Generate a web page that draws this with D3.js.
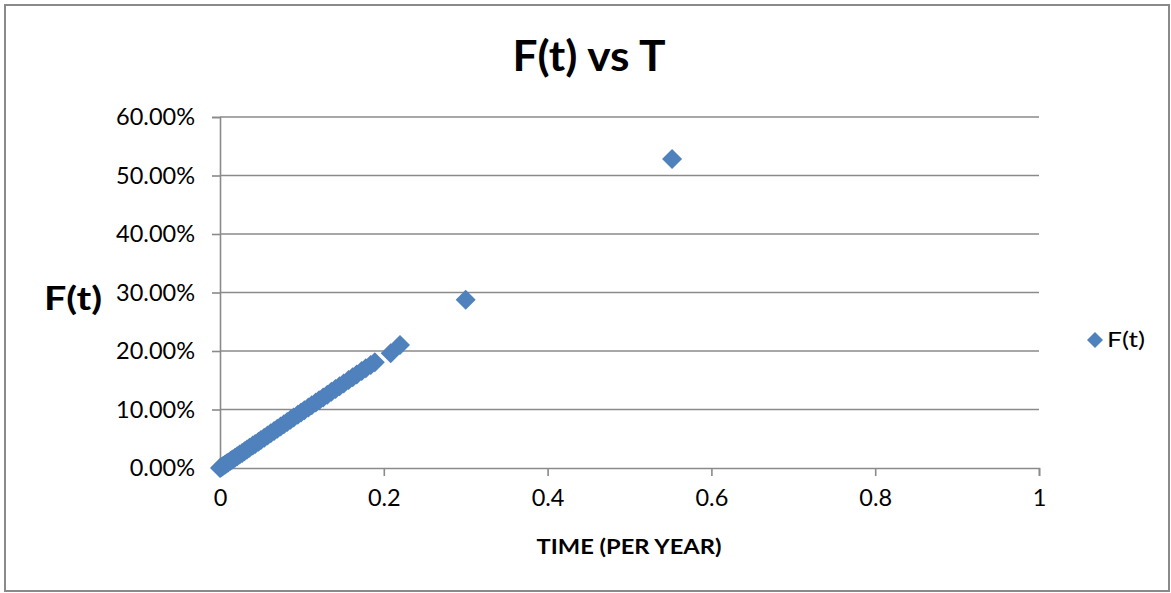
<!DOCTYPE html>
<html>
<head>
<meta charset="utf-8">
<script src="https://cdn.jsdelivr.net/npm/d3@7"></script>
<style>
  html, body { margin: 0; padding: 0; background: #fff; }
  svg { display: block; }
  text { font-family: Lato, "Open Sans", sans-serif; fill: #000; }
</style>
</head>
<body>
<svg id="chart" width="1171" height="593"></svg>
<script>
// Time (per year) of each observation
const timeValues = [
  0, 0.001, 0.002, 0.004, 0.006, 0.008, 0.010, 0.013, 0.015, 0.018,
  0.021, 0.024, 0.027, 0.030, 0.033, 0.036, 0.040, 0.043, 0.047, 0.050,
  0.054, 0.058, 0.062, 0.066, 0.070, 0.074, 0.078, 0.082, 0.086, 0.090,
  0.095, 0.099, 0.103, 0.108, 0.112, 0.117, 0.121, 0.126, 0.131, 0.136,
  0.141, 0.146, 0.151, 0.157, 0.162, 0.167, 0.173, 0.178, 0.184, 0.189,
  0.2084, 0.2198, 0.300, 0.552
];
// Cumulative failure fraction F(t) at each time
const fValues = [
  0.0000, 0.0010, 0.0019, 0.0038, 0.0057, 0.0077, 0.0096, 0.0124, 0.0144, 0.0172,
  0.0201, 0.0230, 0.0258, 0.0287, 0.0316, 0.0345, 0.0383, 0.0412, 0.0450, 0.0479,
  0.0517, 0.0555, 0.0594, 0.0632, 0.0670, 0.0708, 0.0747, 0.0785, 0.0823, 0.0862,
  0.0909, 0.0948, 0.0986, 0.1034, 0.1072, 0.1120, 0.1158, 0.1206, 0.1254, 0.1302,
  0.1349, 0.1397, 0.1445, 0.1503, 0.1550, 0.1598, 0.1656, 0.1703, 0.1761, 0.1809,
  0.1962, 0.2101, 0.2875, 0.5282
];
const xTicks = [0, 0.2, 0.4, 0.6, 0.8, 1];
const yTicks = [0, 0.1, 0.2, 0.3, 0.4, 0.5, 0.6];
const seriesName = "F(t)";
const chartTitle = "F(t) vs T";
const xTitle = "TIME (PER YEAR)";
const yTitle = "F(t)";

const points = timeValues.map((t, i) => ({ t, f: fValues[i] }));

const svg = d3.select("#chart");
const plot = { left: 220, right: 1039, top: 117, bottom: 468 };
const gridColor = "#8a8a8a";
const markColor = "#4f81bd";

// chart frame
svg.append("rect")
  .attr("x", 5).attr("y", 5)
  .attr("width", 1164).attr("height", 586)
  .attr("fill", "#fff")
  .attr("stroke", gridColor).attr("stroke-width", 2);

const x = d3.scaleLinear().domain([0, 1]).range([plot.left, plot.right]);
const y = d3.scaleLinear().domain([0, 0.6]).range([plot.bottom, plot.top]);

// horizontal gridlines
svg.append("g")
  .selectAll("line")
  .data(yTicks.filter(d => d > 0))
  .join("line")
  .attr("x1", plot.left).attr("x2", plot.right)
  .attr("y1", d => y(d)).attr("y2", d => y(d))
  .attr("stroke", gridColor).attr("stroke-width", 1.6);

// y axis
const yAxis = svg.append("g")
  .attr("transform", `translate(${plot.left},0)`)
  .call(d3.axisLeft(y).tickValues(yTicks).tickSize(8).tickPadding(17)
    .tickFormat(d => (d * 100).toFixed(2) + "%"));
yAxis.select(".domain").attr("stroke", gridColor).attr("stroke-width", 1.6);
yAxis.selectAll(".tick line").attr("stroke", gridColor).attr("stroke-width", 1.6);
yAxis.selectAll(".tick text")
  .attr("font-family", "Lato, sans-serif").attr("font-size", 23.5).attr("fill", "#000");

// x axis
const xAxis = svg.append("g")
  .attr("transform", `translate(0,${plot.bottom})`)
  .call(d3.axisBottom(x).tickValues(xTicks).tickSize(8).tickPadding(13)
    .tickFormat(d => String(d)));
xAxis.select(".domain").attr("stroke", gridColor).attr("stroke-width", 1.6);
xAxis.selectAll(".tick line").attr("stroke", gridColor).attr("stroke-width", 1.6);
xAxis.selectAll(".tick text")
  .attr("font-family", "Lato, sans-serif").attr("font-size", 23.5).attr("fill", "#000");

// markers
const diamond = d3.symbol(d3.symbolSquare, 200);
svg.append("g")
  .selectAll("path")
  .data(points)
  .join("path")
  .attr("d", diamond)
  .attr("transform", d => `translate(${x(d.t)},${y(d.f)}) rotate(45)`)
  .attr("fill", markColor);

// titles
svg.append("text")
  .attr("x", 589).attr("y", 71)
  .attr("text-anchor", "middle")
  .attr("font-size", 42).attr("font-weight", 700)
  .attr("textLength", 153).attr("lengthAdjust", "spacingAndGlyphs")
  .text(chartTitle);

svg.append("text")
  .attr("x", 73).attr("y", 310)
  .attr("text-anchor", "middle")
  .attr("font-size", 33).attr("font-weight", 700)
  .attr("textLength", 58).attr("lengthAdjust", "spacingAndGlyphs")
  .text(yTitle);

svg.append("text")
  .attr("x", 629).attr("y", 554)
  .attr("text-anchor", "middle")
  .attr("font-size", 21).attr("font-weight", 700)
  .attr("textLength", 185).attr("lengthAdjust", "spacingAndGlyphs")
  .text(xTitle);

// legend
svg.append("path")
  .attr("d", d3.symbol(d3.symbolSquare, 128)())
  .attr("transform", "translate(1095,340) rotate(45)")
  .attr("fill", markColor);
svg.append("text")
  .attr("x", 1107).attr("y", 340).attr("dy", "0.35em")
  .attr("font-size", 21)
  .attr("textLength", 38).attr("lengthAdjust", "spacingAndGlyphs")
  .text(seriesName);
</script>
</body>
</html>
